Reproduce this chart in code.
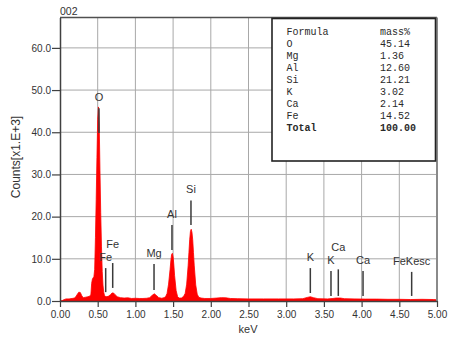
<!DOCTYPE html>
<html>
<head>
<meta charset="utf-8">
<script src="https://cdn.jsdelivr.net/npm/d3@7"></script>
<style>
  body { margin: 0; background: #fff; }
  text { font-family: "Liberation Sans", Arial, sans-serif; fill: #333; }
  .mono { font-family: "Liberation Mono", "Courier New", monospace; fill: #2a2a2a; }
</style>
</head>
<body>
<div id="chart"></div>
<script>
// Spectrum (keV, counts x1E+3)
const specKeV = [0.00, 0.03, 0.05, 0.08, 0.12, 0.16, 0.19, 0.21, 0.23, 0.25, 0.27, 0.29, 0.31, 0.34, 0.37,
  0.40, 0.41, 0.42, 0.43, 0.44, 0.45, 0.46, 0.47, 0.48, 0.49, 0.50, 0.51, 0.52, 0.53, 0.54, 0.55, 0.56,
  0.57, 0.58, 0.59, 0.61, 0.64, 0.67, 0.69, 0.71, 0.73, 0.76, 0.80, 0.85, 0.90, 0.95, 1.00, 1.05, 1.10,
  1.15, 1.19, 1.22, 1.25, 1.28, 1.31, 1.35, 1.38, 1.40, 1.42, 1.44, 1.46, 1.47, 1.48, 1.49, 1.50, 1.51,
  1.52, 1.54, 1.56, 1.58, 1.61, 1.64, 1.66, 1.68, 1.70, 1.71, 1.72, 1.73, 1.74, 1.75, 1.76, 1.77, 1.78,
  1.80, 1.82, 1.84, 1.87, 1.92, 2.00, 2.08, 2.14, 2.20, 2.26, 2.35, 2.50, 2.70, 2.90, 3.10, 3.22, 3.28,
  3.32, 3.36, 3.42, 3.55, 3.62, 3.66, 3.72, 3.77, 3.90, 4.05, 4.20, 4.35, 4.50, 4.65, 4.80, 4.95, 5.00];
const specCounts = [0, 0.1, 0.3, 0.5, 0.5, 0.6, 0.7, 1.0, 1.6, 2.1, 2.0, 1.2, 0.8, 0.9, 1.0,
  1.2, 1.6, 4.2, 5.2, 5.5, 5.8, 7.5, 15, 24, 34, 43, 46, 42, 31, 21, 13, 7,
  3.8, 2.1, 1.3, 1.0, 1.1, 1.5, 1.9, 1.9, 1.5, 1.0, 0.8, 0.7, 0.75, 0.6, 0.65, 0.6, 0.6,
  0.65, 0.8, 1.3, 1.7, 1.3, 0.8, 0.65, 0.8, 1.0, 1.8, 4.0, 7.5, 9.5, 11.0, 11.3, 10.5, 8.5,
  6.0, 2.5, 1.0, 0.7, 0.7, 1.1, 1.8, 4.0, 8.5, 11.5, 14.5, 16.5, 17.0, 16.3, 14.5, 11.5, 8.5,
  3.8, 1.6, 0.9, 0.7, 0.6, 0.6, 0.7, 0.8, 0.75, 0.6, 0.55, 0.5, 0.5, 0.5, 0.5, 0.55, 0.85,
  1.0, 0.8, 0.55, 0.5, 0.6, 0.7, 0.7, 0.55, 0.5, 0.45, 0.45, 0.4, 0.4, 0.35, 0.4, 0.35, 0.3];

// Peak markers
const markLabels = ["O", "Fe", "Fe", "Mg", "Al", "Si", "K", "K", "Ca", "Ca", "FeKesc"];
const markKeV = [0.517, 0.606, 0.699, 1.247, 1.485, 1.737, 3.32, 3.594, 3.691, 4.019, 4.664];
const markTop = [45.7, 7.8, 9.0, 8.8, 18.0, 23.8, 7.8, 7.1, 7.5, 7.1, 6.9];
const markBottom = [39.8, 2.1, 3.1, 2.6, 12.1, 18.0, 1.9, 1.2, 1.2, 1.2, 1.2];
const markLabelAt = [47.5, 9.55, 12.6, 10.4, 19.7, 25.6, 9.4, 8.8, 11.9, 8.8, 8.5];

// Quantification table
const formulas = ["O", "Mg", "Al", "Si", "K", "Ca", "Fe"];
const massPct = ["45.14", "1.36", "12.60", "21.21", "3.02", "2.14", "14.52"];
const massTotal = "100.00";

const xTicks = [0, 0.5, 1, 1.5, 2, 2.5, 3, 3.5, 4, 4.5, 5];
const yTicks = [0, 10, 20, 30, 40, 50, 60];

const dimensions = {
  width: 463,
  height: 343,
  margin: { top: 17.5, right: 26, bottom: 42, left: 60 }
};

const svg = d3
  .select("#chart")
  .append("svg")
  .attr("width", dimensions.width)
  .attr("height", dimensions.height);

const xScale = d3
  .scaleLinear()
  .domain([0, 5])
  .range([dimensions.margin.left, dimensions.width - dimensions.margin.right]);

const yScale = d3
  .scaleLinear()
  .domain([0, 67.2])
  .range([dimensions.height - dimensions.margin.bottom, dimensions.margin.top]);

const x0 = xScale(0), x1 = xScale(5);
const y0 = yScale(0), y1 = yScale.range()[1];

// Grid
svg
  .append("g")
  .selectAll("line")
  .data(xTicks.slice(1, -1))
  .join("line")
  .attr("x1", (d) => xScale(d))
  .attr("x2", (d) => xScale(d))
  .attr("y1", y1)
  .attr("y2", y0)
  .attr("stroke", "#a8a8a8")
  .attr("stroke-width", 1);

svg
  .append("g")
  .selectAll("line")
  .data(yTicks.slice(1))
  .join("line")
  .attr("x1", x0)
  .attr("x2", x1)
  .attr("y1", (d) => yScale(d))
  .attr("y2", (d) => yScale(d))
  .attr("stroke", "#a8a8a8")
  .attr("stroke-width", 1);

// Spectrum
const spectrum = specKeV.map((k, i) => ({ k, c: specCounts[i] }));
const area = d3
  .area()
  .x((d) => xScale(d.k))
  .y0(y0)
  .y1((d) => yScale(d.c));

svg
  .append("path")
  .datum(spectrum)
  .attr("d", area)
  .attr("fill", "#ff0000")
  .attr("stroke", "#ff0000")
  .attr("stroke-width", 0.8);

// Frame: top dark, right gray
svg
  .append("line")
  .attr("x1", x0).attr("x2", x1)
  .attr("y1", y1).attr("y2", y1)
  .attr("stroke", "#505050")
  .attr("stroke-width", 1.5);
svg
  .append("line")
  .attr("x1", x1).attr("x2", x1)
  .attr("y1", y1).attr("y2", y0)
  .attr("stroke", "#8a8a8a")
  .attr("stroke-width", 2);

// Axes
const xAxis = d3
  .axisBottom(xScale)
  .tickValues(xTicks)
  .tickFormat(d3.format(".2f"))
  .tickSize(6)
  .tickSizeOuter(0);
const gx = svg
  .append("g")
  .attr("transform", `translate(0, ${y0})`)
  .call(xAxis);
gx.select(".domain").attr("stroke", "#404040").attr("stroke-width", 1.5);
gx.selectAll(".tick line").attr("stroke", "#404040").attr("stroke-width", 1.2);
gx.selectAll("text")
  .attr("y", 10)
  .style("font-size", "10px")
  .style("font-family", "Liberation Sans, Arial, sans-serif")
  .attr("fill", "#333");

const yAxis = d3
  .axisLeft(yScale)
  .tickValues(yTicks)
  .tickFormat(d3.format(".1f"))
  .tickSize(8)
  .tickSizeOuter(0);
const gy = svg
  .append("g")
  .attr("transform", `translate(${x0}, 0)`)
  .call(yAxis);
gy.select(".domain").attr("stroke", "#404040").attr("stroke-width", 1.5);
gy.selectAll(".tick line").attr("stroke", "#404040").attr("stroke-width", 1.2);
gy.selectAll("text")
  .attr("x", -9)
  .style("font-size", "10px")
  .style("font-family", "Liberation Sans, Arial, sans-serif")
  .attr("fill", "#333");

// Peak markers
const marks = markLabels.map((label, i) => ({
  label,
  k: markKeV[i],
  top: markTop[i],
  bottom: markBottom[i],
  at: markLabelAt[i]
}));

svg
  .append("g")
  .selectAll("line")
  .data(marks)
  .join("line")
  .attr("x1", (d) => xScale(d.k))
  .attr("x2", (d) => xScale(d.k))
  .attr("y1", (d) => yScale(d.top))
  .attr("y2", (d) => yScale(d.bottom))
  .attr("stroke", "#3a3a3a")
  .attr("stroke-width", 1.5);

svg
  .append("g")
  .selectAll("text")
  .data(marks)
  .join("text")
  .attr("x", (d) => xScale(d.k))
  .attr("y", (d) => yScale(d.at))
  .attr("text-anchor", "middle")
  .style("font-size", "11px")
  .text((d) => d.label);

// Titles
svg
  .append("text")
  .attr("x", x0)
  .attr("y", 14.5)
  .style("font-size", "10.5px")
  .text("002");

svg
  .append("text")
  .attr("transform", `translate(19.5, 157) rotate(-90)`)
  .attr("text-anchor", "middle")
  .style("font-size", "12px")
  .text("Counts[x1.E+3]");

svg
  .append("text")
  .attr("x", 248)
  .attr("y", 332.5)
  .attr("text-anchor", "middle")
  .style("font-size", "11px")
  .text("keV");

// Table box
const box = svg.append("g").attr("transform", "translate(272, 18.5)");
box
  .append("rect")
  .attr("width", 163.5)
  .attr("height", 142.5)
  .attr("fill", "#fff")
  .attr("stroke", "#222")
  .attr("stroke-width", 1.6);

const rowY = (i) => 16 + i * 12;
const rows = [["Formula", "mass%"]]
  .concat(formulas.map((f, i) => [f, massPct[i]]))
  .concat([["Total", massTotal]]);

rows.forEach((r, i) => {
  const bold = i === rows.length - 1;
  box
    .append("text")
    .attr("class", "mono")
    .attr("x", 14.5)
    .attr("y", rowY(i))
    .style("font-size", "10px")
    .style("font-weight", bold ? "bold" : "normal")
    .text(r[0]);
  box
    .append("text")
    .attr("class", "mono")
    .attr("x", 108)
    .attr("y", rowY(i))
    .style("font-size", "10px")
    .style("font-weight", bold ? "bold" : "normal")
    .text(r[1]);
});
</script>
</body>
</html>
